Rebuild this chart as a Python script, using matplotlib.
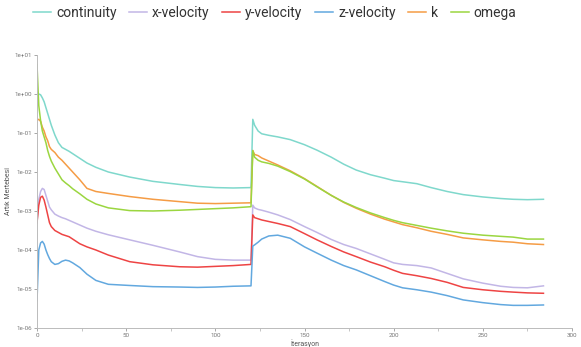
import numpy as np
import matplotlib
matplotlib.use("Agg")
import matplotlib.pyplot as plt

iterations = [0, 1, 2, 3, 4, 5, 6, 7, 8, 10, 12, 14, 16, 18, 20, 24, 28, 33, 40, 52,
              65, 80, 90, 100, 110, 120, 121, 122, 124, 126, 130, 135, 142, 150, 157,
              165, 172, 179, 187, 195, 200, 205, 213, 221, 230, 239, 250, 260, 267, 275, 284]

# residual exponents (log10)
continuity_exp = [0.0, 0.0, -0.02, -0.1, -0.2, -0.35, -0.5, -0.65, -0.8, -1.05, -1.25, -1.37, -1.42,
                  -1.47, -1.53, -1.65, -1.77, -1.88, -2.0, -2.13, -2.24, -2.32, -2.37, -2.40, -2.41,
                  -2.40, -0.65, -0.8, -0.95, -1.02, -1.06, -1.10, -1.17, -1.30, -1.44, -1.62, -1.80,
                  -1.95, -2.07, -2.16, -2.22, -2.25, -2.30, -2.40, -2.50, -2.58, -2.64, -2.68, -2.70,
                  -2.71, -2.70]
xvel_exp = [-3.3, -2.7, -2.5, -2.42, -2.45, -2.6, -2.75, -2.9, -2.97, -3.08, -3.13, -3.17, -3.2,
            -3.24, -3.28, -3.36, -3.44, -3.52, -3.61, -3.74, -3.88, -4.05, -4.17, -4.24, -4.26,
            -4.26, -2.85, -2.92, -2.96, -2.98, -3.03, -3.10, -3.22, -3.40, -3.55, -3.73, -3.86,
            -3.96, -4.10, -4.24, -4.33, -4.37, -4.40, -4.46, -4.60, -4.74, -4.85, -4.93, -4.96,
            -4.97, -4.92]
yvel_exp = [-3.3, -2.85, -2.65, -2.62, -2.72, -2.9, -3.1, -3.3, -3.4, -3.5, -3.55, -3.6, -3.63,
            -3.66, -3.72, -3.84, -3.92, -4.0, -4.13, -4.30, -4.38, -4.43, -4.44, -4.42, -4.40,
            -4.37, -3.10, -3.17, -3.20, -3.23, -3.27, -3.32, -3.40, -3.58, -3.74, -3.91, -4.05,
            -4.17, -4.31, -4.43, -4.52, -4.60, -4.66, -4.73, -4.83, -4.96, -5.02, -5.06, -5.08,
            -5.10, -5.11]
zvel_exp = [-5.3, -4.0, -3.82, -3.78, -3.85, -4.0, -4.12, -4.22, -4.3, -4.37, -4.35, -4.29, -4.26,
            -4.28, -4.33, -4.45, -4.62, -4.78, -4.88, -4.91, -4.94, -4.95, -4.96, -4.95, -4.93,
            -4.92, -3.90, -3.87, -3.80, -3.72, -3.64, -3.62, -3.70, -3.92, -4.08, -4.26, -4.40,
            -4.51, -4.66, -4.81, -4.90, -4.97, -5.02, -5.08, -5.17, -5.28, -5.35, -5.40, -5.42,
            -5.42, -5.41]
k_exp = [-0.67, -0.65, -0.7, -0.85, -0.95, -1.1, -1.2, -1.35, -1.42, -1.5, -1.62, -1.7, -1.8,
         -1.9, -2.0, -2.2, -2.42, -2.50, -2.55, -2.63, -2.70, -2.76, -2.80, -2.81, -2.80,
         -2.79, -1.45, -1.55, -1.58, -1.64, -1.72, -1.82, -1.97, -2.17, -2.37, -2.60, -2.78,
         -2.93, -3.08, -3.21, -3.28, -3.35, -3.43, -3.52, -3.60, -3.69, -3.74, -3.78, -3.80,
         -3.84, -3.86]
omega_exp = [0.75, -0.3, -0.68, -0.95, -1.1, -1.25, -1.45, -1.6, -1.72, -1.9, -2.05, -2.2, -2.28,
             -2.35, -2.43, -2.56, -2.70, -2.82, -2.92, -2.99, -3.0, -2.98, -2.96, -2.94, -2.92,
             -2.89, -1.45, -1.62, -1.70, -1.74, -1.78, -1.85, -1.99, -2.18, -2.38, -2.60, -2.77,
             -2.91, -3.05, -3.17, -3.24, -3.30, -3.37, -3.44, -3.51, -3.57, -3.62, -3.65, -3.67,
             -3.72, -3.72]

series_names = ["continuity", "x-velocity", "y-velocity", "z-velocity", "k", "omega"]
series_exps = [continuity_exp, xvel_exp, yvel_exp, zvel_exp, k_exp, omega_exp]
colors = ["#7fd8cc", "#c2b6e6", "#ee4444", "#62a8df", "#f59c45", "#9bd640"]

y_ticks = [1e1, 1e0, 1e-1, 1e-2, 1e-3, 1e-4, 1e-5, 1e-6]
y_tick_labels = ["1e+01", "1e+00", "1e-01", "1e-02", "1e-03", "1e-04", "1e-05", "1e-06"]
x_ticks = [0, 50, 100, 150, 200, 250, 300]

plt.rcParams['font.family'] = ['Roboto', 'DejaVu Sans']
fig = plt.figure(figsize=(5.81, 3.47), dpi=100)
ax = fig.add_axes([0.0637, 0.0548, 0.9208, 0.7867])

handles = []
for name, ex, c in zip(series_names, series_exps, colors):
    h, = ax.plot(iterations, 10.0 ** np.array(ex), color=c, lw=1.1, label=name)
    handles.append(h)

ax.set_yscale('log')
ax.set_ylim(1e-6, 1e1)
ax.set_xlim(0, 300)
ax.set_yticks(y_ticks)
ax.set_yticklabels(y_tick_labels)
ax.yaxis.set_minor_locator(matplotlib.ticker.NullLocator())
ax.set_xticks(x_ticks)
ax.set_xticks([25, 75, 125, 175, 225, 275], minor=True)
ax.tick_params(axis='both', which='major', labelsize=4.5, colors='#999999', length=2, width=0.6, pad=1.5)
ax.tick_params(axis='x', which='minor', length=2, width=0.6, colors='#bbbbbb')
for lab in ax.get_xticklabels() + ax.get_yticklabels():
    lab.set_color('#777777')
for s in ['top', 'right']:
    ax.spines[s].set_visible(False)
for s in ['left', 'bottom']:
    ax.spines[s].set_color('#bbbbbb')
    ax.spines[s].set_linewidth(0.7)

ax.set_xlabel("İterasyon", fontsize=5, color='#555555', labelpad=1)
ax.set_ylabel("Artık Mertebesi", fontsize=5, color='#555555', labelpad=2)

fig.legend(handles=handles, labels=series_names, loc='center', bbox_to_anchor=(0.473, 0.962),
           ncol=6, frameon=False, fontsize=10, handlelength=1.3, handletextpad=0.35,
           columnspacing=0.9, labelcolor='#333333')

fig.savefig("out.png", dpi=100)
